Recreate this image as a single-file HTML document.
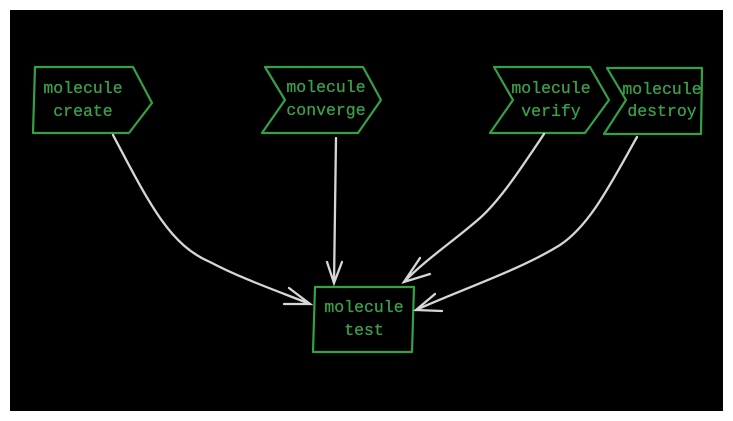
<!DOCTYPE html>
<html><head><meta charset="utf-8"><style>
html,body{margin:0;padding:0;background:#fff;}
svg{display:block;}
text{font-family:"Liberation Mono",monospace;font-size:16.5px;fill:#3b9f4a;text-anchor:middle;stroke:#3b9f4a;stroke-width:0.3px;}
</style></head><body>
<svg width="733" height="421" viewBox="0 0 733 421" xmlns="http://www.w3.org/2000/svg">
<rect x="10" y="10" width="713" height="401" fill="#000"/>
<g fill="none" stroke="#36a046" stroke-width="2.2" stroke-linejoin="round">
<polygon points="35,67 133,67 152,103 129,133 33,133"/>
<polygon points="265,67 363,67 381,100 358,133 262,133 285,100"/>
<polygon points="494,67 590,67 609,100 585,133 490,133 513,100"/>
<polygon points="607,68 702,68 701,134 604,134 626,100"/>
<polygon points="315,287 414,287 412,352 313,352"/>
</g>
<g fill="none" stroke="#d6d6d6" stroke-width="2.3" stroke-linecap="round">
<path d="M113,135 C150,205 170,245 210,262 C240,278 280,292 310,304"/>
<path d="M289,288 L310,304 L284,304"/>
<path d="M336,138 L334,283"/>
<path d="M327,262 L334,283 L342,262"/>
<path d="M544,134 C520,170 500,200 480,218 C455,240 425,260 404,282"/>
<path d="M420,258 L404,282 L430,274"/>
<path d="M637,137 C610,185 590,225 560,245 C520,270 460,290 416,310"/>
<path d="M435,294 L416,310 L442,311"/>
</g>
<text x="83" y="93">molecule</text>
<text x="83" y="116">create</text>
<text x="326" y="92">molecule</text>
<text x="326" y="115">converge</text>
<text x="551" y="93">molecule</text>
<text x="551" y="116">verify</text>
<text x="662" y="94">molecule</text>
<text x="662" y="116">destroy</text>
<text x="364" y="312">molecule</text>
<text x="364" y="335">test</text>
</svg>
</body></html>
